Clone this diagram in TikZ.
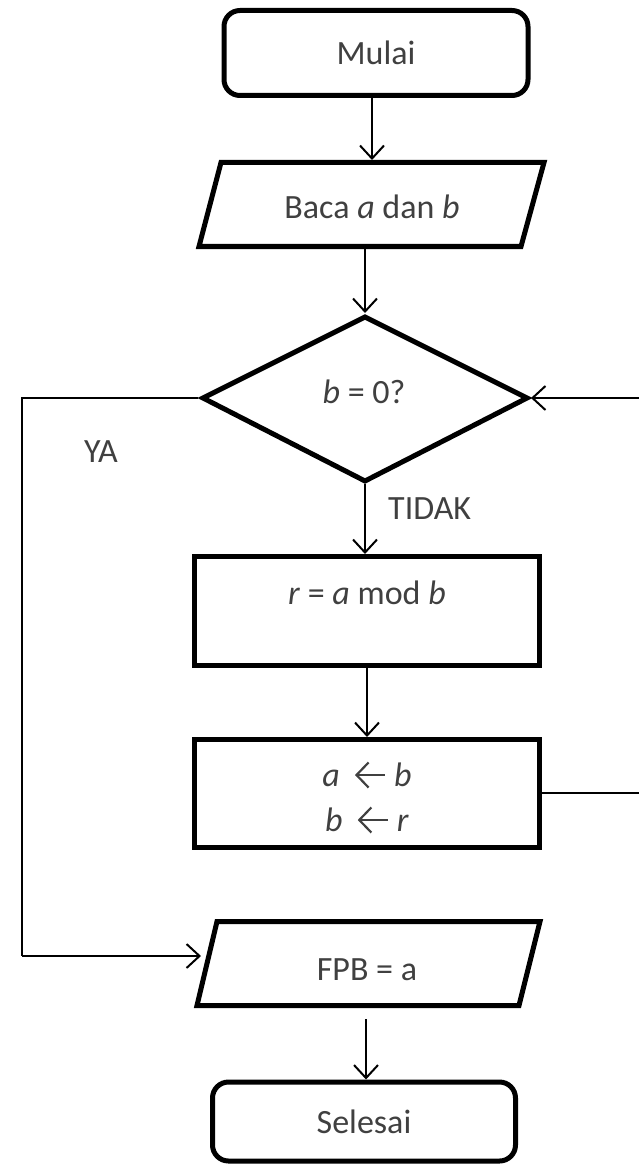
\documentclass[tikz,border=0pt]{standalone}
\usepackage{fontspec}
\setmainfont{Carlito}
\usetikzlibrary{arrows.meta,shapes.geometric}

% assignment arrow drawn as a small inline picture
\newcommand{\assignarrow}{\hspace*{14pt}\tikz[baseline=0pt,x=1pt,y=1pt]
  \draw[line width=2.2pt, {Straight Barb[length=12pt,width=25pt,line width=2.2pt]}-, draw=black!75] (0,11) -- (30,11);\hspace*{8pt}}

\begin{document}
\begin{tikzpicture}[x=1pt,y=-1pt,
  box/.style={draw=black, line width=5pt, inner sep=0pt},
  outline/.style={draw=black, line width=5pt, line join=miter},
  conn/.style={line width=2pt, -{Straight Barb[length=13pt,width=24pt,line width=2pt]}},
  wire/.style={line width=2pt},
  txt/.style={font=\fontsize{34}{40}\selectfont, text=black!75, inner sep=0pt},
]
\useasboundingbox (0,0) rectangle (639,1166);

% terminals and process boxes
\node[box, rounded corners=16pt, minimum width=304pt, minimum height=85pt, txt] (mulai) at (376,53) {Mulai};
\node[box, minimum width=345pt, minimum height=109pt] (hitung) at (367,611) {};
\node[txt] (hitungtxt) at (367,593) {\textit{r} = \textit{a} mod \textit{b}};
\node[box, minimum width=345pt, minimum height=108pt] (tukar) at (367,793.5) {};
\node[txt] (tukar1) at (367,775) {\textit{a}\assignarrow\textit{b}};
\node[txt] (tukar2) at (367,820) {\textit{b}\assignarrow\textit{r}};
\node[box, rounded corners=16pt, minimum width=303pt, minimum height=79pt, txt] (selesai) at (364,1121.5) {Selesai};

% input parallelogram
\draw[outline] (221,162.5) -- (544,162.5) -- (521,246.5) -- (199,246.5) -- cycle;
\node[txt] (baca) at (372,207) {Baca \textit{a} dan \textit{b}};
\coordinate (bacaN) at (372,160);
\coordinate (bacaS) at (365,249);

% decision
\draw[outline] (365,317) -- (527,398) -- (365,481) -- (203,398) -- cycle;
\node[txt] (cek) at (364,392) {\textit{b} = 0?};
\coordinate (cekN) at (365,313);
\coordinate (cekS) at (365,484);
\coordinate (cekW) at (198,398);
\coordinate (cekE) at (531,398);

% output parallelogram
\draw[outline] (217,921.5) -- (540,921.5) -- (519,1005.5) -- (197,1005.5) -- cycle;
\node[txt] (fpb) at (367,970) {FPB = a};
\coordinate (fpbW) at (201,956);
\coordinate (fpbS) at (366,1019);

% connectors
\draw[conn] (mulai.south -| bacaN) -- (bacaN);
\draw[conn] (bacaS) -- (cekN);
\draw[conn] (cekS) -- (hitung.north -| cekS);
\draw[conn] (hitung.south -| tukar1) -- (tukar.north -| tukar1);
\draw[conn] (fpbS) -- (fpbS |- selesai.north);

% YA branch
\coordinate (yaA) at (22,398);
\coordinate (yaB) at (22,956);
\draw[wire] (cekW) -- (yaA) -- (yaB);
\draw[conn] (yaB) -- (fpbW);
\node[txt, anchor=west] (ya) at (84,452) {YA};

% TIDAK label
\node[txt, anchor=west] (tidak) at (388,509) {TIDAK};

% loop back to the decision
\coordinate (loopOut) at (639,793);
\coordinate (loopIn) at (639,398);
\draw[wire] (tukar.east |- loopOut) -- (loopOut);
\draw[conn] (loopIn) -- (cekE);
\end{tikzpicture}
\end{document}
